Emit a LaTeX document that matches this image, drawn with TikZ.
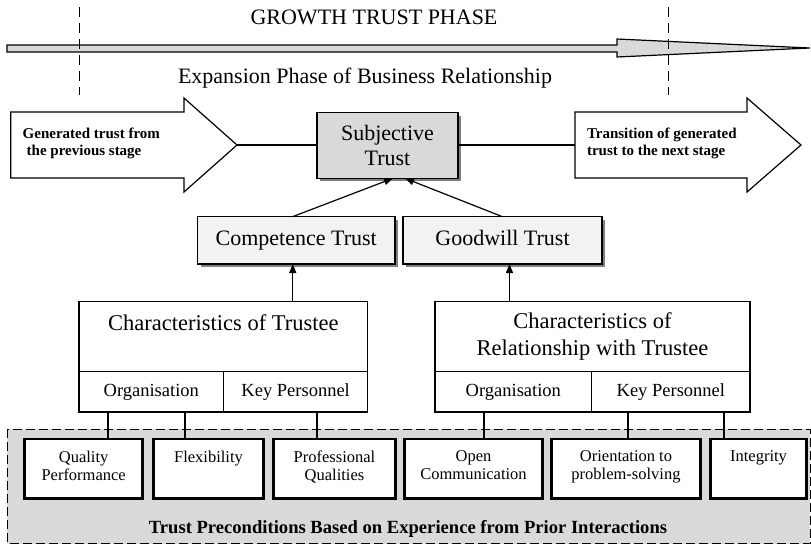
\documentclass[tikz,border=0pt]{standalone}
\usepackage{fontspec}
\setmainfont{Liberation Serif}
\usetikzlibrary{shadows,arrows.meta}
\definecolor{subjgray}{HTML}{D9D9D9}
\definecolor{lightbox}{HTML}{F2F2F2}
\definecolor{shadowgray}{HTML}{808080}
\definecolor{regiongray}{HTML}{D9D9D9}
\begin{document}
\begin{tikzpicture}[x=1pt,y=-1pt,
  every node/.style={inner sep=0pt, outer sep=0pt},
  plain/.style={draw, line width=1.2pt},
  shad/.style={drop shadow={shadow xshift=3pt, shadow yshift=-3pt, fill=shadowgray, opacity=1}},
  conn/.style={line width=1.2pt},
  arr/.style={line width=1.2pt, -{Triangle[length=9pt,width=7pt]}},
  trustbox/.style={plain, shad, fill=lightbox, minimum height=47.3pt, font=\fontsize{22}{26}\selectfont, text height=15pt, text depth=4.8pt},
  cellbox/.style={plain, fill=white, minimum height=40.3pt, font=\fontsize{18.5}{22}\selectfont, text height=12.6pt, text depth=4pt},
  topbox/.style={plain, fill=white, minimum height=70pt, font=\fontsize{22.5}{27}\selectfont},
  bbox/.style={draw, line width=2.6pt, fill=white, minimum height=59.7pt},
  btext/.style={anchor=north, yshift=-11.7pt, align=center, font=\fontsize{16.5}{18.3}\selectfont},
  arrowtext/.style={anchor=north west, align=left, font=\fontsize{15}{17}\selectfont\bfseries},
  phase/.style={font=\fontsize{22}{26}\selectfont},
  dashline/.style={line width=1pt, dash pattern=on 10pt off 6pt}
]
\useasboundingbox (0,0) rectangle (811,546);

% background region
\draw[fill=regiongray, line width=1pt, dash pattern=on 9pt off 4pt] (7.3,429.3) rectangle (810,543.7);

% top arrow and dashed lines
\draw[line width=1.2pt, fill=subjgray] (7,45) -- (617,45) -- (617,39) -- (810,48) -- (617,57) -- (617,52) -- (7,52) -- cycle;
\draw[dashline] (79,7) -- (79,95);
\draw[dashline] (668,7) -- (668,95);
\node[phase, anchor=base] (growth) at (374,24) {GROWTH TRUST PHASE};
\node[phase, anchor=base west] (expansion) at (178,83) {Expansion Phase of Business Relationship};

% block arrows
\draw[line width=1.2pt, fill=white] (10.7,112) -- (184,112) -- (184,98) -- (237,145) -- (184,192) -- (184,178) -- (10.7,178) -- cycle;
\draw[line width=1.2pt, fill=white] (575,112) -- (747,112) -- (747,98) -- (801,145) -- (747,192) -- (747,178) -- (575,178) -- cycle;
\coordinate (ltip) at (237,145);
\coordinate (rtail) at (575,145);
\node[arrowtext] (gentext) at (22.7,127.7) {Generated trust from\\\hspace*{4pt}the previous stage};
\node[arrowtext] (transtext) at (587,127.7) {Transition of generated\\trust to the next stage};

% subjective trust
\node[plain, shad, fill=subjgray, minimum width=141pt, minimum height=65.6pt, align=center, font=\fontsize{22}{25}\selectfont] (subj) at (387.5,145.5) {Subjective\\Trust};
\draw[conn] (ltip) -- (subj.west |- ltip);
\draw[conn] (subj.east |- rtail) -- (rtail);

% competence and goodwill
\node[trustbox, minimum width=197.5pt] (comp) at (296.25,240.35) {Competence Trust};
\node[trustbox, minimum width=199pt] (good) at (502.5,240.35) {Goodwill Trust};
\draw[arr] ([xshift=-3.75pt]comp.north) -- ([xshift=5.5pt]subj.south);
\draw[arr] (good.north) -- ([xshift=17.5pt]subj.south);

% characteristics boxes
\node[topbox, minimum width=288.7pt, text height=15.4pt, text depth=27.4pt] (ctop) at (223.35,336.7) {Characteristics of Trustee};
\node[topbox, minimum width=315pt, align=center] (rtop) at (592.5,336.7) {Characteristics of\\Relationship with Trustee};
\node[cellbox, minimum width=144.6pt] (corg) at (151.3,391.85) {Organisation};
\node[cellbox, minimum width=144.1pt] (ckey) at (295.65,391.85) {Key Personnel};
\node[cellbox, minimum width=156.7pt] (rorg) at (513.35,391.85) {Organisation};
\node[cellbox, minimum width=158.3pt] (rkey) at (670.85,391.85) {Key Personnel};

\coordinate (ca) at ([xshift=-3.5pt]comp.south);
\coordinate (ga) at ([xshift=7pt]good.south);
\draw[arr] (ca |- ctop.north) -- (ca);
\draw[arr] (ga |- rtop.north) -- (ga);

% precondition boxes
\node[bbox, minimum width=118.1pt, label={[btext]north:Quality\\Performance}] (qp) at (83.65,468.85) {};
\node[bbox, minimum width=110.4pt, label={[btext]north:Flexibility}] (fx) at (208.5,468.85) {};
\node[bbox, minimum width=122.4pt, label={[btext]north:Professional\\Qualities}] (pq) at (334.5,468.85) {};
\node[bbox, minimum width=138.4pt, label={[btext]north:Open\\Communication}] (oc) at (473.5,468.85) {};
\node[bbox, minimum width=149.4pt, label={[btext]north:Orientation to\\problem-solving}] (op) at (626,468.85) {};
\node[bbox, minimum width=95.8pt, label={[btext]north:Integrity}] (ig) at (758.5,468.85) {};

\coordinate (k1) at ([xshift=-43.3pt]corg.south);
\coordinate (k2) at ([xshift=33.7pt]corg.south);
\coordinate (k3) at ([xshift=21.35pt]ckey.south);
\coordinate (k4) at ([xshift=-29.35pt]rorg.south);
\coordinate (k5) at ([xshift=-42.85pt]rkey.south);
\coordinate (k6) at ([xshift=53.15pt]rkey.south);
\draw[conn] (k1) -- (k1 |- qp.north);
\draw[conn] (k2) -- (k2 |- fx.north);
\draw[conn] (k3) -- (k3 |- pq.north);
\draw[conn] (k4) -- (k4 |- oc.north);
\draw[conn] (k5) -- (k5 |- op.north);
\draw[conn] (k6) -- (k6 |- ig.north);

\node[anchor=base, font=\fontsize{18.6}{22}\selectfont\bfseries] (precond) at (408,533) {Trust Preconditions Based on Experience from Prior Interactions};
\end{tikzpicture}
\end{document}
